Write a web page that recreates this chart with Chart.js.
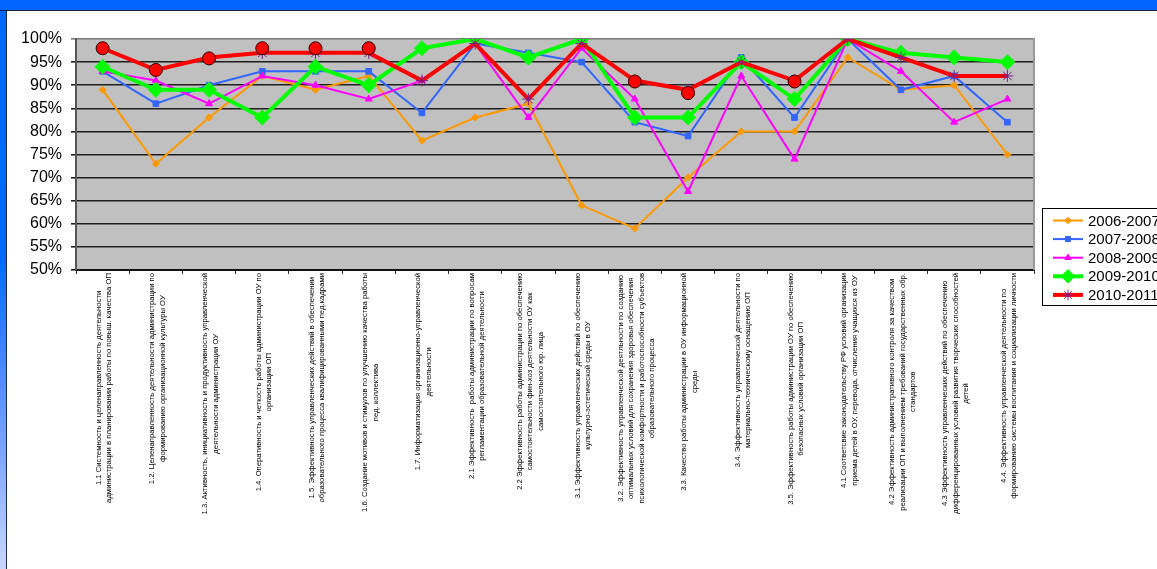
<!DOCTYPE html>
<html>
<head>
<meta charset="utf-8">
<script src="https://cdn.jsdelivr.net/npm/chart.js@4/dist/chart.umd.min.js"></script>
<style>
  html, body { margin: 0; padding: 0; width: 1157px; height: 569px; overflow: hidden; background: #fff; }
  #topbar { position: absolute; left: 0; top: 0; width: 1157px; height: 10px; background: #0066ff; border-bottom: 1px solid #10204a; }
  #leftbar { position: absolute; left: 0; top: 0; width: 6px; height: 569px;
             background: linear-gradient(#0066ff 0%, #0a66ff 45%, #7fa6ff 80%, #c9d7ff 100%);
             border-right: 1px solid #202840; }
  #wrap { position: absolute; left: 0; top: 0; width: 1157px; height: 569px; }
</style>
</head>
<body>
<div id="leftbar"></div>
<div id="topbar"></div>
<div id="wrap"><canvas id="chart" width="1157" height="569"></canvas></div>
<script>
// criteria (x categories), each entry = lines of the rotated label
const categories = [
    ['1.1 Системность и целенаправленность деятельности', 'администрации в планировании работы по повыш. качества ОП'],
    ['1.2. Целенаправленность деятельности администрации по', 'формированию организационной культуры ОУ'],
    ['1.3. Активность, инициативность и продуктивность управленческой', 'деятельности администрации ОУ'],
    ['1.4. Оперативность и четкость работы администрации ОУ по', 'организации ОП'],
    ['1.5. Эффективность управленческих действий в обеспечении', 'образовательного процесса квалифицированными пед.кадрами'],
    ['1.6. Создание мотивов и стимулов по улучшению качества работы', 'пед. коллектива'],
    ['1.7. Информатизация организационно-управленческой', 'деятельности'],
    ['2.1 Эффективность  работы администрации по вопросам', 'регламентации образовательной деятельности'],
    ['2.2 Эффективность работы администрации по обеспечению', 'самостоятельности фин-хоз деятельности ОУ как', 'самостоятельного юр. лица'],
    ['3.1 Эффективность управленческих действий по обеспечению', 'культурно-эстетической среды в ОУ'],
    ['3.2. Эффективность управленческой деятльности по созданию', 'оптимальных условий для сохранения здоровья обеспечения', 'психологической комфортности и работоспособности субъектов', 'образовательного процесса'],
    ['3.3. Качество работы администрации в ОУ информационной', 'среды'],
    ['3.4. Эффективность управленческой деятельности по', 'материально-техническому оснащению ОП'],
    ['3.5. Эффективность работы администрации ОУ по обеспечению', 'безопасных условий организации ОП'],
    ['4.1 Соответсвие законодательству РФ условий организации', 'приема детей в ОУ, перевода, отчисления учащихся из ОУ'],
    ['4.2 Эффективность административного контроля за качеством', 'реализации ОП и выполнением требований государственных обр.', 'стандартов'],
    ['4.3 Эффективность управленческих действий по обеспечению', 'дифференцированных условий развития творческих способностей', 'детей'],
    ['4.4. Эффективность управленческой деятельности по', 'формированию системы воспитания и социализации личности']
];

const seriesNames = ['2006-2007', '2007-2008', '2008-2009', '2009-2010', '2010-2011'];

// values in %
const y2006 = [89, 73, 83, 92, 89, 92, 78, 83, 86, 64, 59, 70, 80, 80, 96, 89, 90, 75];
const y2007 = [93, 86, 90, 93, 93, 93, 84, 99, 97, 95, 82, 79, 96, 83, 100, 89, 92, 82];
const y2008 = [93, 91, 86, 92, 90, 87, 91, 99, 83, 98, 87, 67, 92, 74, 100, 93, 82, 87];
const y2009 = [94, 89, 89, 83, 94, 90, 98, 100, 96, 100, 83, 83, 95, 87, 100, 97, 96, 95];
const y2010 = [98, 93.3, 96, 97, 97, 97, 91, 99, 87, 99, 91, 89, 95, 91, 100, 96, 92, 92];
// red circles placed over some 2010-2011 points
const circles = [98, 93.3, 95.8, 98, 98, 98, null, null, null, null, 90.8, 88.3, null, 90.8, null, null, null, null];

const yTicks = [50, 55, 60, 65, 70, 75, 80, 85, 90, 95, 100];

const FONT = '"Liberation Sans", Arial, sans-serif';

const sheetPlugin = {
    id: 'sheet',
    beforeDraw(chart) {
        const { ctx, chartArea: a } = chart;
        ctx.save();
        ctx.fillStyle = '#c0c0c0';
        ctx.fillRect(a.left, a.top, a.right - a.left, a.bottom - a.top);
        ctx.restore();
    },
    beforeDatasetsDraw(chart) {
        const { ctx, chartArea: a } = chart;
        ctx.save();
        ctx.strokeStyle = '#9a9a9a';
        ctx.lineWidth = 2;
        ctx.beginPath();
        ctx.moveTo(a.right, a.top - 1);
        ctx.lineTo(a.right, a.bottom);
        ctx.stroke();
        ctx.restore();
    },
    afterDraw(chart) {
        const ctx = chart.ctx;
        const xs = chart.scales.x;

        // rotated multi-line category labels, lines centred
        ctx.save();
        ctx.font = '7.7px ' + FONT;
        ctx.fillStyle = '#000';
        ctx.textAlign = 'center';
        ctx.textBaseline = 'middle';
        categories.forEach((lines, i) => {
            const cx = xs.getPixelForValue(i);
            const w = Math.max(...lines.map(l => ctx.measureText(l).width));
            ctx.save();
            ctx.translate(cx + 1.5, xs.top + 3);
            ctx.rotate(-Math.PI / 2);
            lines.forEach((l, k) => {
                ctx.fillText(l, -w / 2, (k - (lines.length - 1) / 2) * 10.5);
            });
            ctx.restore();
        });
        ctx.restore();

        // legend box
        const lx = 1042, ly = 208;
        ctx.save();
        ctx.fillStyle = '#fff';
        ctx.fillRect(lx, ly, 140, 98);
        ctx.strokeStyle = '#000';
        ctx.lineWidth = 1;
        ctx.strokeRect(lx + 0.5, ly + 0.5, 140, 97);
        chart.data.datasets.forEach((ds, i) => {
            if (i >= seriesNames.length) return;
            const y = ly + 12.5 + i * 18.6;
            ctx.strokeStyle = ds.borderColor;
            ctx.lineWidth = ds.borderWidth;
            ctx.beginPath();
            ctx.moveTo(lx + 11, y);
            ctx.lineTo(lx + 41, y);
            ctx.stroke();
            ctx.fillStyle = ds.pointBackgroundColor;
            ctx.strokeStyle = ds.pointBorderColor;
            ctx.lineWidth = ds.pointBorderWidth;
            Chart.helpers.drawPoint(ctx, {
                pointStyle: ds.pointStyle,
                radius: ds.pointRadius * 0.9,
                rotation: 0,
                borderWidth: ds.pointBorderWidth
            }, lx + 26, y);
            ctx.fillStyle = '#000';
            ctx.font = '15px ' + FONT;
            ctx.textAlign = 'left';
            ctx.textBaseline = 'middle';
            ctx.fillText(ds.label, lx + 46, y + 1);
        });
        ctx.restore();
    }
};

function series(label, data, color, width, style, radius, extra) {
    return Object.assign({
        label: label,
        data: data,
        borderColor: color,
        borderWidth: width,
        pointStyle: style,
        pointRadius: radius,
        pointHoverRadius: radius,
        pointBackgroundColor: color,
        pointBorderColor: color,
        pointBorderWidth: 1,
        tension: 0,
        fill: false
    }, extra || {});
}

new Chart(document.getElementById('chart'), {
    type: 'line',
    data: {
        labels: categories.map(c => c[0].split(' ')[0]),
        datasets: [
            series(seriesNames[0], y2006, '#ff9900', 2, 'rectRot', 3.5, { order: 5 }),
            series(seriesNames[1], y2007, '#3366ff', 2, 'rect', 4, { order: 4 }),
            series(seriesNames[2], y2008, '#ff00ff', 2, 'triangle', 4, { order: 3 }),
            series(seriesNames[3], y2009, '#00ff00', 4, 'rectRot', 7.5, { order: 2 }),
            series(seriesNames[4], y2010, '#ff0000', 4, 'star', 6, { order: 1, pointBorderColor: '#7a1f8a', pointBackgroundColor: '#7a1f8a' }),
            {
                label: 'circles',
                data: circles,
                showLine: false,
                pointStyle: 'circle',
                pointRadius: 6.5,
                pointHoverRadius: 6.5,
                pointBackgroundColor: '#ff0000',
                pointBorderColor: '#2a0000',
                pointBorderWidth: 1,
                order: 0
            }
        ]
    },
    options: {
        responsive: false,
        animation: false,
        devicePixelRatio: 1,
        layout: { padding: { left: 0, top: 39, right: 123, bottom: 0 } },
        plugins: {
            legend: { display: false },
            tooltip: { enabled: false }
        },
        scales: {
            x: {
                offset: true,
                afterFit: s => { s.height = 299; },
                ticks: { display: false },
                grid: {
                    offset: true,
                    drawOnChartArea: false,
                    drawTicks: true,
                    tickLength: 4,
                    color: '#333',
                    lineWidth: 1
                },
                border: { color: '#111', width: 2 }
            },
            y: {
                min: 50,
                max: 100,
                afterFit: s => { s.width = 76; },
                afterBuildTicks: s => { s.ticks = yTicks.map(v => ({ value: v })); },
                ticks: {
                    color: '#000',
                    font: { family: FONT, size: 16 },
                    padding: 9,
                    callback: v => v + '%'
                },
                grid: {
                    color: c => c.tick && c.tick.value === 100 ? '#7a7a7a' : '#1e1e1e',
                    lineWidth: 1.6,
                    tickLength: 5
                },
                border: { color: '#555', width: 2 }
            }
        }
    },
    plugins: [sheetPlugin]
});
</script>
</body>
</html>
